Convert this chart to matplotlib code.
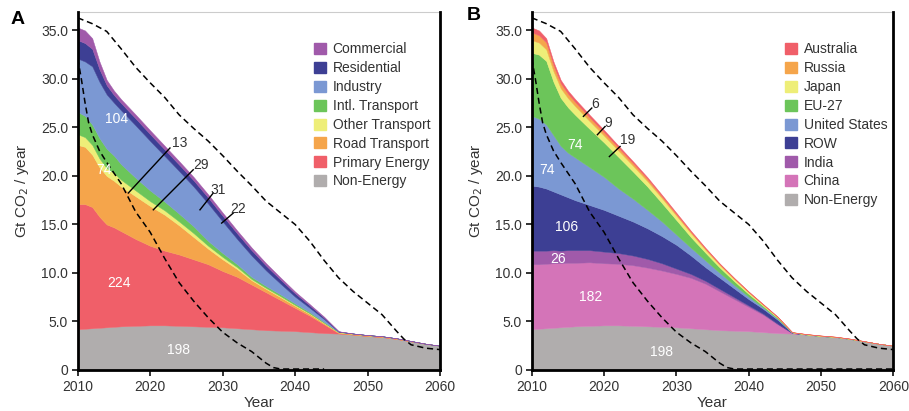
import matplotlib
matplotlib.use("Agg")
import matplotlib.pyplot as plt
from matplotlib.patches import Patch
from matplotlib.ticker import FixedLocator, FuncFormatter

plt.rcParams['font.family'] = ['Liberation Sans', 'DejaVu Sans']

# ---------------- data ----------------
years = [2010, 2011, 2012, 2013, 2014, 2015, 2016, 2018, 2020, 2022, 2024, 2026, 2028, 2030,
         2032, 2034, 2036, 2038, 2040, 2042, 2044, 2046, 2048, 2050, 2052, 2054, 2056, 2058, 2060]

non_energy = [4.2, 4.25, 4.3, 4.35, 4.4, 4.45, 4.5, 4.55, 4.6, 4.6, 4.55, 4.5, 4.45, 4.4,
              4.3, 4.2, 4.1, 4.05, 4.0, 3.9, 3.8, 3.75, 3.65, 3.5, 3.4, 3.2, 2.95, 2.7, 2.5]

# panel A (sectors)
primary = [12.9, 12.85, 12.5, 11.45, 10.6, 10.25, 9.8, 8.95, 8.2, 7.7, 7.35, 6.9, 6.45, 5.8,
           5.3, 4.6, 3.9, 3.15, 2.4, 1.7, 0.9, 0.05, 0, 0, 0, 0, 0, 0, 0]
road = [6.1, 5.9, 5.4, 5.1, 5.0, 4.8, 4.6, 4.4, 4.1, 3.7, 3.0, 2.3, 1.6, 1.2,
        0.8, 0.45, 0.35, 0.3, 0.22, 0.18, 0.12, 0.08, 0.08, 0.07, 0.06, 0.05, 0.03, 0.01, 0]
other_tr = [1.1, 1.0, 1.0, 0.9, 0.8, 0.8, 0.7, 0.6, 0.5, 0.45, 0.4, 0.4, 0.3, 0.25,
            0.2, 0.12, 0.1, 0.1, 0.08, 0.06, 0.04, 0.03, 0.03, 0.03, 0.02, 0.02, 0.01, 0, 0]
intl_tr = [2.3, 2.2, 2.1, 2.1, 2.0, 1.8, 1.6, 1.3, 1.1, 0.9, 0.8, 0.7, 0.5, 0.4,
           0.3, 0.22, 0.2, 0.18, 0.15, 0.12, 0.08, 0.02, 0, 0, 0, 0, 0, 0, 0]
industry = [5.5, 5.6, 6.0, 5.8, 5.6, 5.45, 5.55, 5.4, 5.1, 4.7, 4.4, 4.1, 3.85, 3.25,
            2.6, 2.2, 1.6, 1.1, 0.7, 0.45, 0.3, 0.02, 0, 0, 0, 0, 0, 0, 0]
residential = [1.9, 1.9, 1.8, 1.3, 0.95, 0.8, 0.75, 0.72, 0.7, 0.68, 0.66, 0.64, 0.62, 0.6,
               0.58, 0.55, 0.5, 0.42, 0.35, 0.25, 0.15, 0.03, 0, 0, 0, 0, 0, 0, 0]
commercial = [1.3, 1.3, 1.1, 0.8, 0.55, 0.45, 0.4, 0.4, 0.4, 0.38, 0.36, 0.35, 0.33, 0.32,
              0.3, 0.28, 0.25, 0.22, 0.18, 0.14, 0.1, 0.02, 0, 0, 0, 0, 0, 0, 0]

# panel B (regions)
china = [6.7, 6.65, 6.65, 6.65, 6.6, 6.6, 6.55, 6.55, 6.4, 6.35, 6.25, 6.05, 5.8, 5.5,
         5.2, 4.7, 4.0, 3.25, 2.5, 1.8, 0.9, 0.05, 0, 0, 0, 0, 0, 0, 0]
india = [1.4, 1.4, 1.35, 1.35, 1.3, 1.3, 1.3, 1.25, 1.2, 1.1, 1.0, 0.9, 0.75, 0.55,
         0.4, 0.3, 0.25, 0.2, 0.15, 0.1, 0.07, 0.02, 0, 0, 0, 0, 0, 0, 0]
row = [6.7, 6.6, 6.4, 6.05, 5.8, 5.45, 5.15, 4.65, 4.3, 3.85, 3.5, 3.15, 2.8, 2.45,
       1.9, 1.4, 1.15, 0.9, 0.65, 0.5, 0.4, 0.03, 0, 0, 0, 0, 0, 0, 0]
usa = [7.2, 7.0, 6.6, 5.8, 5.0, 4.6, 4.4, 3.9, 3.4, 2.8, 2.35, 1.9, 1.5, 1.05,
       0.8, 0.7, 0.5, 0.35, 0.25, 0.15, 0.1, 0.02, 0, 0, 0, 0, 0, 0, 0]
eu27 = [6.5, 6.6, 6.55, 5.5, 4.95, 4.68, 4.4, 3.95, 3.55, 3.25, 2.8, 2.4, 1.9, 1.5,
        1.1, 0.8, 0.55, 0.4, 0.28, 0.15, 0.1, 0.01, 0, 0, 0, 0, 0, 0, 0]
japan = [1.3, 1.25, 1.2, 1.1, 1.0, 0.95, 0.9, 0.8, 0.7, 0.65, 0.6, 0.55, 0.5, 0.45,
         0.4, 0.3, 0.25, 0.2, 0.15, 0.1, 0.07, 0.01, 0.03, 0.03, 0.02, 0.02, 0.01, 0, 0]
russia = [0.8, 0.75, 0.7, 0.6, 0.5, 0.45, 0.42, 0.38, 0.34, 0.3, 0.27, 0.24, 0.2, 0.17,
          0.14, 0.12, 0.1, 0.08, 0.06, 0.05, 0.03, 0.01, 0.02, 0.02, 0.01, 0.01, 0.01, 0, 0]
australia = [0.5, 0.5, 0.45, 0.4, 0.35, 0.32, 0.3, 0.27, 0.24, 0.21, 0.19, 0.17, 0.15, 0.13,
             0.11, 0.09, 0.07, 0.06, 0.05, 0.04, 0.03, 0.01, 0.01, 0.01, 0.01, 0.01, 0.01, 0, 0]

# dashed pathways
upper_years = [2010, 2012, 2014, 2016, 2018, 2020, 2022, 2024, 2026, 2028, 2030, 2032, 2034,
               2036, 2038, 2040, 2042, 2044, 2046, 2048, 2050, 2052, 2054, 2055, 2056, 2058, 2060]
upper_vals = [36.3, 35.7, 34.9, 33.1, 31.2, 29.6, 28.1, 26.3, 24.9, 23.6, 22.1, 20.5, 19.0,
              17.4, 16.2, 15.0, 13.3, 11.3, 9.5, 8.1, 6.9, 5.7, 4.0, 3.2, 2.6, 2.25, 2.1]
lower_years = [2010, 2010.5, 2011, 2011.5, 2012, 2013, 2014, 2016, 2018, 2020, 2022, 2024,
               2026, 2028, 2030, 2032, 2034, 2036, 2037, 2038, 2044]
lower_vals = [32.1, 30.0, 27.6, 25.5, 24.3, 22.6, 21.4, 19.2, 16.3, 14.2, 11.5, 9.0,
              7.1, 5.4, 3.9, 2.8, 1.9, 0.7, 0.25, 0.1, 0.1]
lower_years_b = lower_years + [2050, 2060]
lower_vals_b = lower_vals + [0.1, 0.1]

labels_a = ['Commercial', 'Residential', 'Industry', 'Intl. Transport', 'Other Transport',
            'Road Transport', 'Primary Energy', 'Non-Energy']
labels_b = ['Australia', 'Russia', 'Japan', 'EU-27', 'United States', 'ROW', 'India',
            'China', 'Non-Energy']

GRAY = '#b0adad'
RED = '#f05f69'
ORANGE = '#f5a54b'
YELLOW = '#eeee78'
GREEN = '#6cc55a'
LBLUE = '#7b98d3'
DBLUE = '#3d3f94'
PURPLE = '#a05aaa'
PINK = '#d474b8'

colors_a = [PURPLE, DBLUE, LBLUE, GREEN, YELLOW, ORANGE, RED, GRAY]
colors_b = [RED, ORANGE, YELLOW, GREEN, LBLUE, DBLUE, PURPLE, PINK, GRAY]

fig = plt.figure(figsize=(9.09, 4.11), dpi=100)
ax_a = fig.add_axes([0.0855, 0.0998, 0.3986, 0.871])
ax_b = fig.add_axes([0.585, 0.0998, 0.3978, 0.871])


def style_axes(ax):
    ax.set_xlim(2010, 2060)
    ax.set_ylim(0, 36.9)
    ax.xaxis.set_major_locator(FixedLocator([2010, 2020, 2030, 2040, 2050, 2060]))
    ax.yaxis.set_major_locator(FixedLocator([0, 5, 10, 15, 20, 25, 30, 35]))
    ax.yaxis.set_major_formatter(FuncFormatter(lambda v, p: '0' if v == 0 else '%.1f' % v))
    ax.tick_params(direction='out', length=4, width=1.3, labelsize=10, colors='#222222',
                   labelcolor='#333333', pad=3)
    for s in ['left', 'bottom', 'right']:
        ax.spines[s].set_linewidth(2)
        ax.spines[s].set_color('black')
        ax.spines[s].set_zorder(5)
    ax.spines['top'].set_color('#cccccc')
    ax.spines['top'].set_linewidth(0.8)
    ax.set_ylabel('Gt CO$_2$ / year', fontsize=11, color='#333333', labelpad=7)
    ax.set_xlabel('Year', fontsize=11, color='#333333', labelpad=2)


# ---------------- panel A ----------------
ax_a.stackplot(years, non_energy, primary, road, other_tr, intl_tr, industry, residential,
               commercial, colors=colors_a[::-1], edgecolor='face', linewidth=0.3)
ax_a.plot(upper_years, upper_vals, color='black', lw=1.1, ls=(0, (4, 2.5)), zorder=3)
ax_a.plot(lower_years, lower_vals, color='black', lw=1.1, ls=(0, (4, 2.5)), zorder=3)
style_axes(ax_a)

for txt, x, y in [('104', 2015.4, 25.9), ('74', 2013.6, 20.6), ('224', 2015.7, 9.0),
                  ('198', 2023.9, 2.06)]:
    ax_a.text(x, y, txt, color='white', fontsize=10, ha='center', va='center', zorder=4)

for txt, x0, y0, x1, y1, tx, ty in [('13', 2016.98, 18.24, 2022.73, 22.88, 2024.1, 23.4),
                                    ('29', 2020.43, 16.51, 2025.94, 20.64, 2027.0, 21.1),
                                    ('31', 2026.87, 16.51, 2028.7, 18.24, 2029.4, 18.6),
                                    ('22', 2029.86, 15.14, 2031.46, 16.17, 2032.2, 16.6)]:
    ax_a.plot([x0, x1], [y0, y1], color='black', lw=1.0, zorder=4)
    ax_a.text(tx, ty, txt, color='#333333', fontsize=10, ha='center', va='center', zorder=4)

ax_a.legend([Patch(color=c) for c in colors_a], labels_a, loc='upper left',
            bbox_to_anchor=(0.652, 0.915), frameon=False, fontsize=10, handlelength=0.85,
            handleheight=0.85, handletextpad=0.5, labelspacing=0.35, borderaxespad=0,
            borderpad=0, labelcolor='#333333')

# ---------------- panel B ----------------
ax_b.stackplot(years, non_energy, china, india, row, usa, eu27, japan, russia, australia,
               colors=colors_b[::-1], edgecolor='face', linewidth=0.3)
ax_b.plot(upper_years, upper_vals, color='black', lw=1.1, ls=(0, (4, 2.5)), zorder=3)
ax_b.plot(lower_years_b, lower_vals_b, color='black', lw=1.1, ls=(0, (4, 2.5)), zorder=3)
style_axes(ax_b)

for txt, x, y in [('74', 2016.0, 23.2), ('74', 2012.1, 20.6), ('106', 2014.8, 14.7),
                  ('26', 2013.7, 11.45), ('182', 2018.1, 7.56), ('198', 2028.0, 1.82)]:
    ax_b.text(x, y, txt, color='white', fontsize=10, ha='center', va='center', zorder=4)

for txt, x0, y0, x1, y1, tx, ty in [('6', 2017.14, 26.14, 2018.3, 27.0, 2018.7, 27.4),
                                    ('9', 2019.07, 24.25, 2020.14, 25.1, 2020.6, 25.5),
                                    ('19', 2020.73, 22.0, 2022.21, 23.04, 2023.2, 23.7)]:
    ax_b.plot([x0, x1], [y0, y1], color='black', lw=1.0, zorder=4)
    ax_b.text(tx, ty, txt, color='#333333', fontsize=10, ha='center', va='center', zorder=4)

ax_b.legend([Patch(color=c) for c in colors_b], labels_b, loc='upper left',
            bbox_to_anchor=(0.70, 0.915), frameon=False, fontsize=10, handlelength=0.85,
            handleheight=0.85, handletextpad=0.5, labelspacing=0.35, borderaxespad=0,
            borderpad=0, labelcolor='#333333')

fig.text(18 / 909, 1 - 19 / 411, 'A', fontsize=14, fontweight='bold', ha='center', va='center')
fig.text(474 / 909, 1 - 15 / 411, 'B', fontsize=14, fontweight='bold', ha='center', va='center')

fig.savefig('out.png', dpi=100)
